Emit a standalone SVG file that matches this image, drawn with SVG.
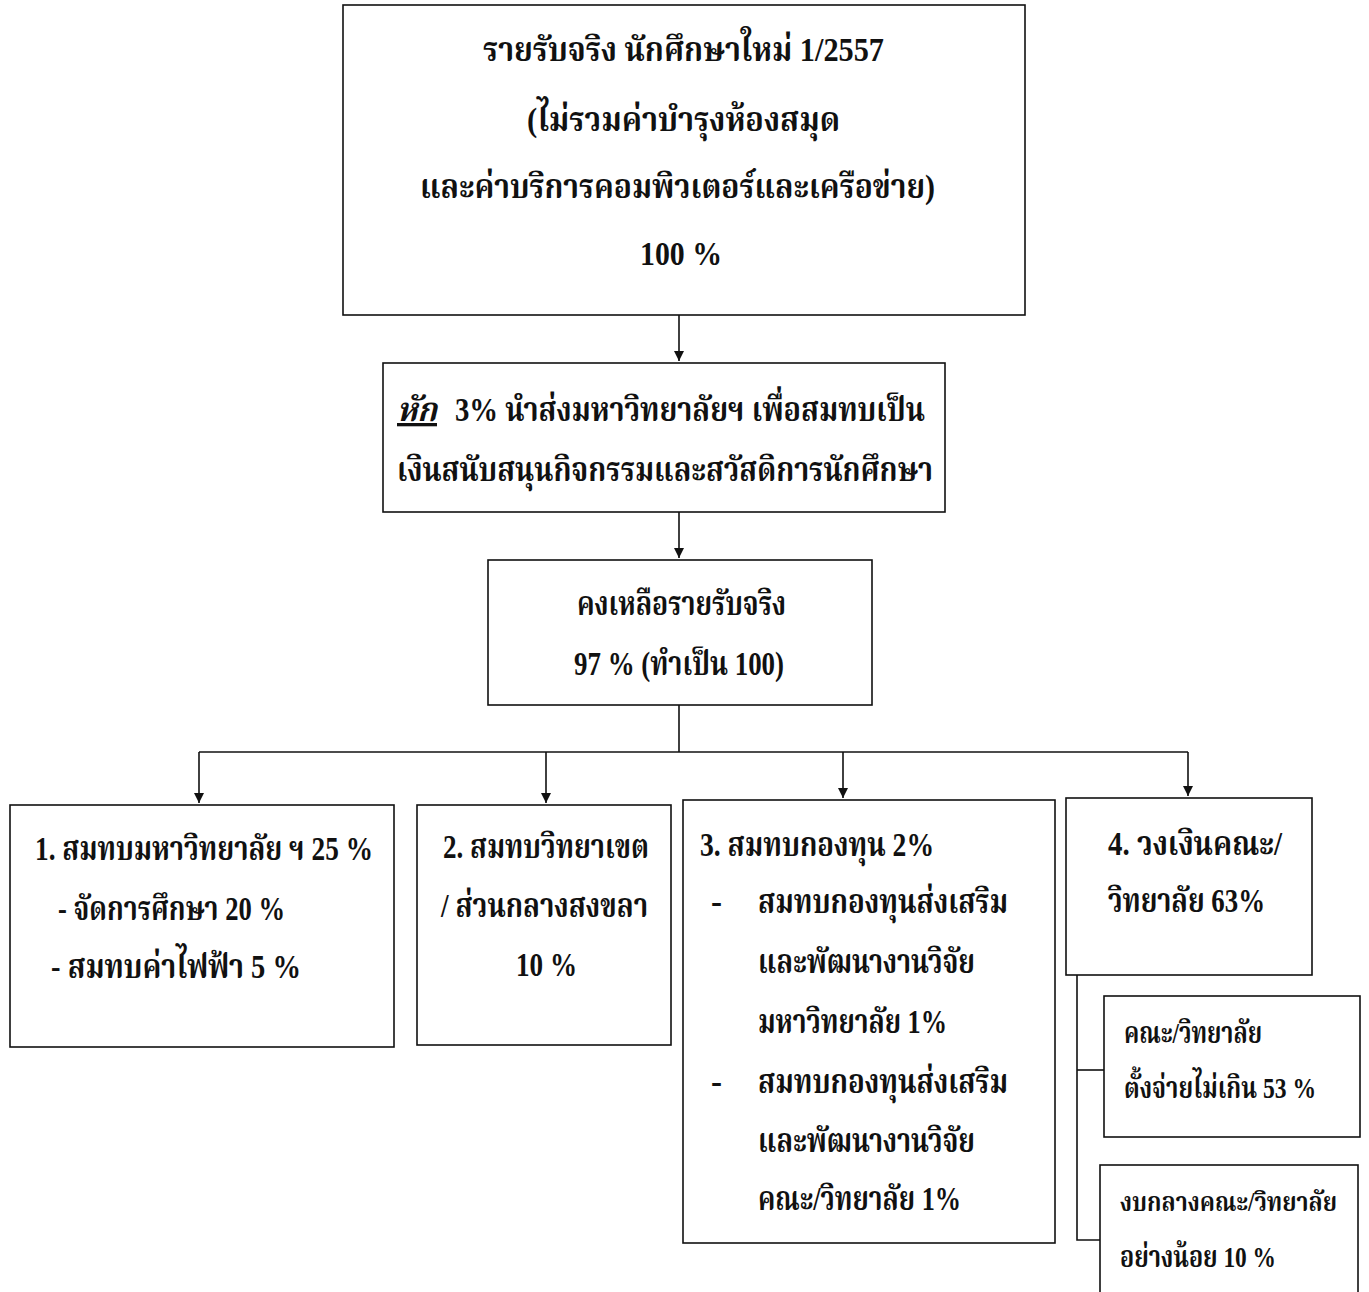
<svg xmlns="http://www.w3.org/2000/svg" width="1369" height="1292" viewBox="0 0 1369 1292">
<style>
.box{fill:#fff;stroke:#111;stroke-width:1.6}
.ln{fill:none;stroke:#111;stroke-width:1.6}
text{font-family:"Liberation Serif","Noto Serif Thai","Noto Sans Thai","Noto Sans","DejaVu Serif",serif;font-size:33px;font-weight:bold;fill:#111}
.s{font-size:30px}
.xs{font-size:27px}
</style>
<defs>
<marker id="ah" viewBox="0 0 10 10" refX="10" refY="5" markerWidth="10" markerHeight="10" markerUnits="userSpaceOnUse" orient="auto">
<path d="M0,0 L10,5 L0,10 z" fill="#111"/>
</marker>
</defs>
<rect width="1369" height="1292" fill="#fff"/>
<g id="connectors">
<line class="ln" x1="679" y1="315" x2="679" y2="361" marker-end="url(#ah)"/>
<line class="ln" x1="679" y1="512" x2="679" y2="558" marker-end="url(#ah)"/>
<line class="ln" x1="679" y1="705" x2="679" y2="752"/>
<line class="ln" x1="199" y1="752" x2="1188" y2="752"/>
<line class="ln" x1="199" y1="752" x2="199" y2="803" marker-end="url(#ah)"/>
<line class="ln" x1="546" y1="752" x2="546" y2="803" marker-end="url(#ah)"/>
<line class="ln" x1="843" y1="752" x2="843" y2="798" marker-end="url(#ah)"/>
<line class="ln" x1="1188" y1="752" x2="1188" y2="796" marker-end="url(#ah)"/>
<polyline class="ln" points="1077,975 1077,1240 1100,1240"/>
<line class="ln" x1="1077" y1="1070" x2="1104" y2="1070"/>
</g>
<g id="n-total">
<rect class="box" x="343" y="5" width="682" height="310"/>
<text x="483" y="61" textLength="401" lengthAdjust="spacingAndGlyphs">รายรับจริง นักศึกษาใหม่ 1/2557</text>
<text x="527" y="131" textLength="313" lengthAdjust="spacingAndGlyphs">(ไม่รวมค่าบำรุงห้องสมุด</text>
<text x="420" y="198" textLength="515" lengthAdjust="spacingAndGlyphs">และค่าบริการคอมพิวเตอร์และเครือข่าย)</text>
<text x="640" y="265" textLength="82" lengthAdjust="spacingAndGlyphs">100 %</text>
</g>
<g id="n-deduct">
<rect class="box" x="383" y="363" width="562" height="149"/>
<text x="397" y="421" textLength="40" lengthAdjust="spacingAndGlyphs" font-style="italic" text-decoration="underline">หัก</text>
<text x="455" y="421" textLength="470" lengthAdjust="spacingAndGlyphs">3% นำส่งมหาวิทยาลัยฯ เพื่อสมทบเป็น</text>
<text x="397" y="481" textLength="536" lengthAdjust="spacingAndGlyphs">เงินสนับสนุนกิจกรรมและสวัสดิการนักศึกษา</text>
</g>
<g id="n-remain">
<rect class="box" x="488" y="560" width="384" height="145"/>
<text x="577" y="615" textLength="209" lengthAdjust="spacingAndGlyphs">คงเหลือรายรับจริง</text>
<text x="574" y="675" textLength="210" lengthAdjust="spacingAndGlyphs">97 % (ทำเป็น 100)</text>
</g>
<g id="n-1">
<rect class="box" x="10" y="805" width="384" height="242"/>
<text x="35" y="860" textLength="338" lengthAdjust="spacingAndGlyphs">1. สมทบมหาวิทยาลัย ฯ 25 %</text>
<text x="58" y="920" textLength="227" lengthAdjust="spacingAndGlyphs">- จัดการศึกษา 20 %</text>
<text x="51" y="978" textLength="250" lengthAdjust="spacingAndGlyphs">- สมทบค่าไฟฟ้า  5 %</text>
</g>
<g id="n-2">
<rect class="box" x="417" y="805" width="254" height="240"/>
<text x="443" y="858" textLength="206" lengthAdjust="spacingAndGlyphs">2. สมทบวิทยาเขต</text>
<text x="441" y="917" textLength="207" lengthAdjust="spacingAndGlyphs">/ ส่วนกลางสงขลา</text>
<text x="516" y="976" textLength="61" lengthAdjust="spacingAndGlyphs">10 %</text>
</g>
<g id="n-3">
<rect class="box" x="683" y="800" width="372" height="443"/>
<text x="700" y="856" textLength="234" lengthAdjust="spacingAndGlyphs">3. สมทบกองทุน 2%</text>
<text x="711" y="913">-</text>
<text x="758" y="913" textLength="250" lengthAdjust="spacingAndGlyphs">สมทบกองทุนส่งเสริม</text>
<text x="758" y="973" textLength="217" lengthAdjust="spacingAndGlyphs">และพัฒนางานวิจัย</text>
<text x="758" y="1033" textLength="189" lengthAdjust="spacingAndGlyphs">มหาวิทยาลัย 1%</text>
<text x="711" y="1093">-</text>
<text x="758" y="1093" textLength="250" lengthAdjust="spacingAndGlyphs">สมทบกองทุนส่งเสริม</text>
<text x="758" y="1152" textLength="217" lengthAdjust="spacingAndGlyphs">และพัฒนางานวิจัย</text>
<text x="758" y="1210" textLength="203" lengthAdjust="spacingAndGlyphs">คณะ/วิทยาลัย 1%</text>
</g>
<g id="n-4">
<rect class="box" x="1066" y="798" width="246" height="177"/>
<text x="1108" y="855" textLength="174" lengthAdjust="spacingAndGlyphs">4. วงเงินคณะ/</text>
<text x="1108" y="912" textLength="157" lengthAdjust="spacingAndGlyphs">วิทยาลัย 63%</text>
</g>
<g id="n-4a">
<rect class="box" x="1104" y="996" width="256" height="141"/>
<text class="s" x="1124" y="1043" textLength="138" lengthAdjust="spacingAndGlyphs">คณะ/วิทยาลัย</text>
<text class="s" x="1124" y="1098" textLength="192" lengthAdjust="spacingAndGlyphs">ตั้งจ่ายไม่เกิน 53 %</text>
</g>
<g id="n-4b">
<rect class="box" x="1100" y="1165" width="258" height="140"/>
<text class="xs" x="1120" y="1211" textLength="217" lengthAdjust="spacingAndGlyphs">งบกลางคณะ/วิทยาลัย</text>
<text class="s" x="1120" y="1267" textLength="156" lengthAdjust="spacingAndGlyphs">อย่างน้อย 10 %</text>
</g>
</svg>
